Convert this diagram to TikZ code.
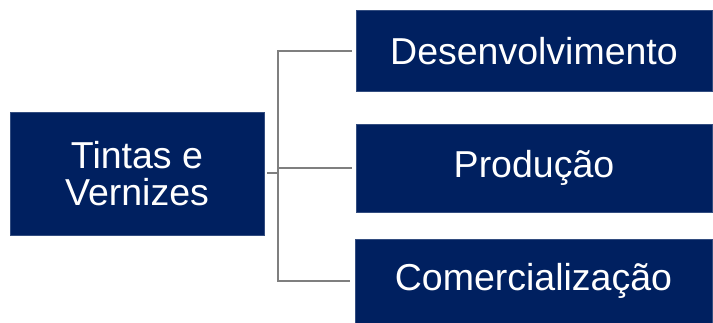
\documentclass[tikz,border=0pt]{standalone}
\usepackage{fontspec}
\setmainfont{Liberation Sans}
\usetikzlibrary{positioning}
\definecolor{navy}{HTML}{002060}
\definecolor{linegray}{HTML}{7F7F7F}
\tikzset{
    boxn/.style = {rectangle, fill=navy, draw=navy!80!white, align=center, text=white, inner sep=0pt, font=\fontsize{37.5}{37}\selectfont},
    edgen/.style = {-, line width=2pt, linegray},
}
\begin{document}
\begin{tikzpicture}[x=1pt,y=-1pt]
  \useasboundingbox (0,0) rectangle (713,323);
  % left block
  \node[boxn, minimum width=254pt, minimum height=123pt] (tv) at (137,173.3) {Tintas e\\Vernizes};
  % right blocks
  \node[boxn, minimum width=356pt, minimum height=81pt] (dev) at (534,51.2) {Desenvolvimento};
  \node[boxn, minimum width=356pt, minimum height=88pt] (prod) at (534,168) {Produção};
  \node[boxn, minimum width=357pt, minimum height=84pt] (com) at (533.5,281) {Comercialização};
  % connectors
  \coordinate (jn) at (277.5,173.3);
  \draw[edgen, shorten <=3pt] (tv.east) -- (jn);
  \draw[edgen, shorten >=4pt] (jn) |- (dev.west);
  \draw[edgen, shorten >=4pt] (jn) |- (prod.west);
  \draw[edgen, shorten >=5pt] (jn) |- (com.west);
\end{tikzpicture}
\end{document}
